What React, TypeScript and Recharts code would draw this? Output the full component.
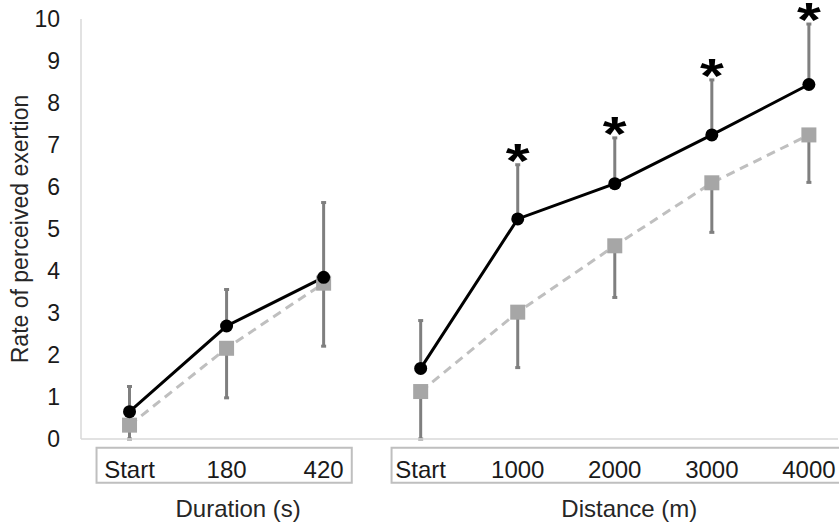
import { LineChart, Line, XAxis, YAxis, ErrorBar, LabelList, ReferenceArea } from 'recharts';

const FONT = '"Liberation Sans", Arial, sans-serif';

// x positions 0-2 are the duration phase, 3-7 the distance phase
const categories = ['Start', '180', '420', 'Start', '1000', '2000', '3000', '4000'];
const blackMean = [0.65, 2.69, 3.85, 1.68, 5.24, 6.08, 7.24, 8.44];
const blackUpper = [1.25, 3.56, 5.63, 2.82, 6.53, 7.17, 8.55, 9.88];
const grayMean = [0.33, 2.16, 3.71, 1.13, 3.02, 4.6, 6.1, 7.24];
const grayLower = [0, 0.98, 2.21, 0, 1.7, 3.37, 4.92, 6.11];
const significant = [false, false, false, false, true, true, true, true];
const yTicks = [0, 1, 2, 3, 4, 5, 6, 7, 8, 9, 10];
const durationCount = 3;

const rows: any[] = [];
categories.forEach((c, i) => {
  if (i === durationCount) {
    // empty row so the lines break between the two phases
    rows.push({ idx: durationCount - 0.5, black: null, gray: null, blackErr: null, grayErr: null, star: null });
  }
  rows.push({
    idx: i,
    black: blackMean[i],
    gray: grayMean[i],
    blackErr: [0, +(blackUpper[i] - blackMean[i]).toFixed(2)],
    grayErr: [+(grayMean[i] - grayLower[i]).toFixed(2), 0],
    star: significant[i] ? blackUpper[i] : null,
  });
});

const GraySquare = (props: any) => {
  const { cx, cy, index } = props;
  if (cx == null || cy == null) return <g key={`sq-${index}`} />;
  return <rect key={`sq-${index}`} x={cx - 7.5} y={cy - 7.5} width={15} height={15} fill="#a6a6a6" />;
};

const Star = (props: any) => {
  const { x, y, value, index } = props;
  if (value == null || x == null || y == null) return null;
  return (
    <text
      key={`st-${index}`}
      transform={`translate(${x}, ${y + 12}) scale(1.25, 1)`}
      textAnchor="middle"
      fontSize={49}
      fontWeight="bold"
      fontFamily={FONT}
      fill="#000"
    >
      *
    </text>
  );
};

const boxTitle = (text: string, dx: number) => (props: any) => {
  const vb = props.viewBox;
  if (!vb) return null;
  return (
    <text x={vb.x + vb.width / 2 + dx} y={vb.y + vb.height + 34} textAnchor="middle" fontSize={24} fontFamily={FONT} fill="#262626">
      {text}
    </text>
  );
};

const yTitle = (props: any) => {
  const vb = props.viewBox;
  const cx = vb.x + 28;
  const cy = vb.y + vb.height / 2;
  return (
    <text x={cx} y={cy} transform={`rotate(-90, ${cx}, ${cy})`} textAnchor="middle" fontSize={23} fontFamily={FONT} fill="#262626">
      Rate of perceived exertion
    </text>
  );
};

export default function App() {
  return (
    <div style={{ position: 'absolute', left: 0, top: 0, background: '#fff' }}>
      <LineChart width={839} height={526} data={rows} margin={{ top: 19, right: 1, left: 0, bottom: 0 }}>
        <XAxis
          dataKey="idx"
          type="number"
          domain={[-0.5, 7.3]}
          ticks={[0, 1, 2, 3, 4, 5, 6, 7]}
          tickFormatter={(v: number) => categories[v]}
          interval={0}
          height={87}
          axisLine={{ stroke: '#d9d9d9', strokeWidth: 1.5 }}
          tickLine={false}
          tickMargin={16}
          tick={{ fontSize: 24, fontFamily: FONT, fill: '#1a1a1a' }}
        />
        <YAxis
          domain={[0, 10]}
          ticks={yTicks}
          interval={0}
          width={81}
          axisLine={{ stroke: '#d9d9d9', strokeWidth: 1.5 }}
          tickLine={false}
          tickMargin={15}
          tick={{ fontSize: 23, fontFamily: FONT, fill: '#1a1a1a' }}
          label={yTitle}
        />
        <ReferenceArea x1={-0.34} x2={2.29} y1={-1.04} y2={-0.21} ifOverflow="visible" fill="none" stroke="#bfbfbf" strokeWidth={2} label={boxTitle('Duration (s)', 14)} />
        <ReferenceArea x1={2.7} x2={7.6} y1={-1.04} y2={-0.21} ifOverflow="visible" fill="none" stroke="#bfbfbf" strokeWidth={2} label={boxTitle('Distance (m)', 0)} />
        <Line
          type="linear"
          dataKey="gray"
          stroke="#bfbfbf"
          strokeWidth={3}
          strokeDasharray="9 6"
          dot={GraySquare}
          activeDot={false}
          isAnimationActive={false}
        >
          <ErrorBar dataKey="grayErr" direction="y" width={2.5} strokeWidth={3} stroke="#7f7f7f" />
        </Line>
        <Line
          type="linear"
          dataKey="black"
          stroke="#000"
          strokeWidth={3}
          dot={{ r: 6.5, fill: '#000', stroke: 'none' }}
          activeDot={false}
          isAnimationActive={false}
        >
          <ErrorBar dataKey="blackErr" direction="y" width={2.5} strokeWidth={3} stroke="#7f7f7f" />
        </Line>
        <Line dataKey="star" stroke="none" dot={false} activeDot={false} isAnimationActive={false}>
          <LabelList dataKey="star" content={Star} />
        </Line>
      </LineChart>
    </div>
  );
}
